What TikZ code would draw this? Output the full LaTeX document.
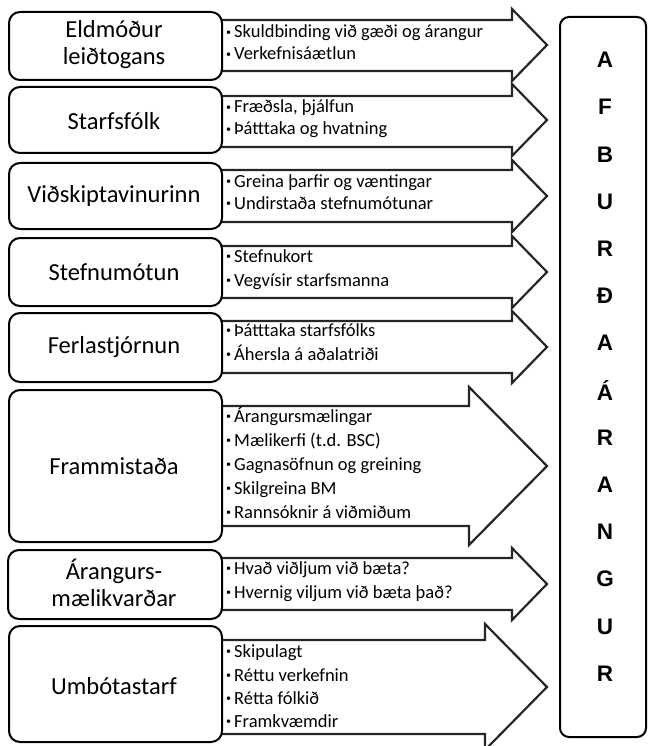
\documentclass[tikz,border=0pt]{standalone}
\usepackage{fontspec}
\setmainfont{Carlito}
\newfontfamily\letfont{Liberation Sans}
\newcommand\bu{\raisebox{0.12em}{\fontsize{10}{10}\selectfont•}\hspace{3pt}}
\newcommand\blockarrow[6]{%
  \draw[arr] (214,#1) -- (#5,#1) -- (#5,#3) -- (547,#6) -- (#5,#4) -- (#5,#2) -- (214,#2);}
\begin{document}
\begin{tikzpicture}[x=1pt,y=-1pt,
  lbox/.style={draw=black, line width=2pt, rounded corners=11pt, fill=white},
  arr/.style={draw=black!85, line width=2.2pt, fill=white, line join=miter},
  lab/.style={font=\fontsize{24.5}{27}\selectfont, align=center, inner sep=0pt},
  bul/.style={font=\fontsize{18.5}{20}\selectfont, anchor=base west, inner sep=0pt},
  let/.style={font=\letfont\bfseries\fontsize{22.5}{22}\selectfont, inner sep=0pt}]
\useasboundingbox (0,0) rectangle (649,746);
% arrows
\blockarrow{20}{71}{9}{81}{512}{45}
\blockarrow{96}{147}{84}{156}{512}{120}
\blockarrow{170}{222}{160}{232}{512}{196}
\blockarrow{246}{298}{236}{308}{512}{272}
\blockarrow{321}{373}{311}{383}{512}{347}
\blockarrow{406}{526}{387}{545}{469}{466}
\blockarrow{558}{610}{548}{620}{512}{584}
\blockarrow{640}{734}{624}{750}{485}{687}
% left boxes
\draw[lbox] (9,12) rectangle (222,80);
\draw[lbox] (9,87) rectangle (222,153);
\draw[lbox] (9,163) rectangle (222,229);
\draw[lbox] (9,238) rectangle (222,306);
\draw[lbox] (9,313) rectangle (222,382);
\draw[lbox] (9,390) rectangle (222,542);
\draw[lbox] (8,550) rectangle (222,619);
\draw[lbox] (9,626) rectangle (222,742);
\node[lab] (b1) at (114,45) {Eldmóður\\leiðtogans};
\node[lab] (b2) at (114,121) {Starfsfólk};
\node[lab] (b3) at (114,196) {Viðskiptavinurinn};
\node[lab] (b4) at (114,272) {Stefnumótun};
\node[lab] (b5) at (114,347) {Ferlastjórnun};
\node[lab] (b6) at (114,466) {Frammistaða};
\node[lab] (b7) at (114,583) {Árangurs-\\mælikvarðar};
\node[lab] (b8) at (114,686) {Umbótastarf};
% bullet texts (baselines)
\node[bul] (t11) at (226,38) {\bu Skuldbinding við gæði og árangur};
\node[bul] (t12) at (226,60) {\bu Verkefnisáætlun};
\node[bul] (t21) at (226,113) {\bu Fræðsla, þjálfun};
\node[bul] (t22) at (226,135) {\bu Þátttaka og hvatning};
\node[bul] (t31) at (226,187) {\bu Greina þarfir og væntingar};
\node[bul] (t32) at (226,209) {\bu Undirstaða stefnumótunar};
\node[bul] (t41) at (226,262) {\bu Stefnukort};
\node[bul] (t42) at (226,286) {\bu Vegvísir starfsmanna};
\node[bul] (t51) at (226,336) {\bu Þátttaka starfsfólks};
\node[bul] (t52) at (226,360) {\bu Áhersla á aðalatriði};
\node[bul] (t61) at (226,422) {\bu Árangursmælingar};
\node[bul] (t62) at (226,446) {\bu Mælikerfi (t.d. BSC)};
\node[bul] (t63) at (226,470) {\bu Gagnasöfnun og greining};
\node[bul] (t64) at (226,494) {\bu Skilgreina BM};
\node[bul] (t65) at (226,518) {\bu Rannsóknir á viðmiðum};
\node[bul] (t71) at (226,574) {\bu Hvað viðljum við bæta?};
\node[bul] (t72) at (226,598) {\bu Hvernig viljum við bæta það?};
\node[bul] (t81) at (226,657) {\bu Skipulagt};
\node[bul] (t82) at (226,681) {\bu Réttu verkefnin};
\node[bul] (t83) at (226,704) {\bu Rétta fólkið};
\node[bul] (t84) at (226,727) {\bu Framkvæmdir};
% right box
\draw[lbox, rounded corners=9pt] (560,17) rectangle (646,737);
\foreach \l [count=\i from 0] in {A,F,B,U,R,Đ,A,Á,R,A,N,G,U,R}
  \node[let] (L\i) at (605,{60+47.2*\i}) {\l};
\end{tikzpicture}
\end{document}
